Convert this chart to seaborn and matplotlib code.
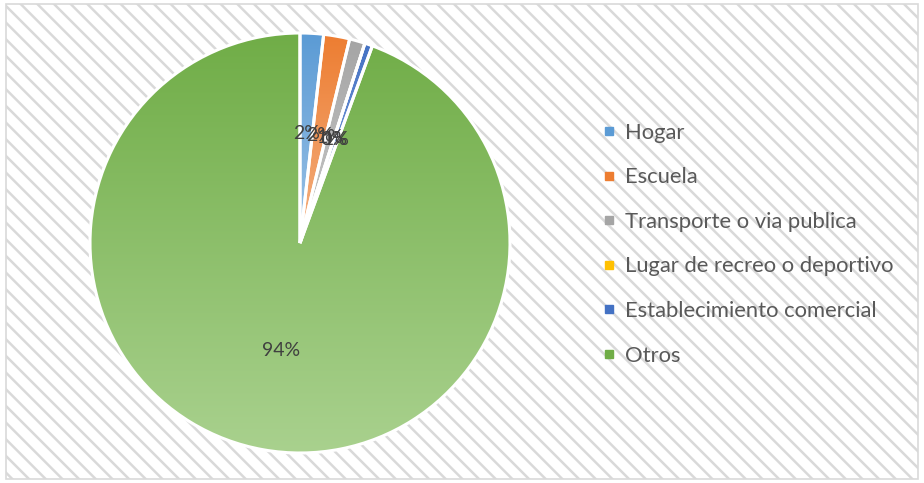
import numpy as np
import pandas as pd
import matplotlib
matplotlib.use("Agg")
import matplotlib.pyplot as plt
from matplotlib.patches import Rectangle
from matplotlib.lines import Line2D
from matplotlib.colors import to_rgb
import seaborn as sns

categories = ["Hogar", "Escuela", "Transporte o via publica",
              "Lugar de recreo o deportivo", "Establecimiento comercial", "Otros"]
values = [1.8, 2.0, 1.2, 0.0, 0.6, 94.4]
top_colors = ["#5B9BD5", "#ED7D31", "#A5A5A5", "#FFC000", "#4472C4", "#70AD47"]
bottom_colors = ["#9DC3E6", "#F4B183", "#C9C9C9", "#FFD966", "#8FAADC", "#A9D18E"]

df = pd.DataFrame({"categoria": categories, "valor": values})

sns.set_theme(style="white")
plt.rcParams["font.family"] = ["Lato", "DejaVu Sans"]
plt.rcParams["hatch.color"] = "#eeeeee"
plt.rcParams["hatch.linewidth"] = 1.8

W, H = 924, 483
fig = plt.figure(figsize=(W / 100, H / 100), dpi=100)
fig.patch.set_facecolor("white")

# background hatched chart area with border (in its own axes, behind everything)
bgax = fig.add_axes([0, 0, 1, 1], zorder=-5)
bgax.set_xlim(0, W)
bgax.set_ylim(H, 0)
bgax.axis("off")
bgax.add_patch(Rectangle((6, 4), 918 - 6, 479 - 4, facecolor="white",
                         edgecolor="#d9d9d9", linewidth=1.2, hatch="\\\\"))

cx, cy, r = 300, 243, 210
ax = fig.add_axes([(cx - r) / W, (H - cy - r) / H, 2 * r / W, 2 * r / H], zorder=1)
ax.set_facecolor("none")

wedges, texts, autotexts = ax.pie(
    df["valor"], startangle=90, counterclock=False,
    colors=top_colors, autopct=lambda p: f"{p:.0f}%", pctdistance=0.52,
    wedgeprops=dict(edgecolor="white", linewidth=2.2),
    textprops=dict(color="#404040", fontsize=14))

for w, c1, c2 in zip(wedges, top_colors, bottom_colors):
    ext = w.get_path().get_extents()
    y0, y1 = ext.y0, ext.y1
    if y1 - y0 < 1e-6:
        continue
    a = np.array(to_rgb(c1)); b = np.array(to_rgb(c2))
    t = np.linspace(0, 1, 256)[:, None]
    grad = (a[None, :] * (1 - t) + b[None, :] * t)[:, None, :]
    im = ax.imshow(grad, extent=[ext.x0, ext.x1, y0, y1], origin="upper",
                   aspect="auto", zorder=1, interpolation="bilinear")
    im.set_clip_path(w)
    w.set_facecolor("none")
    w.set_zorder(2)

for t in autotexts:
    t.set_zorder(3)

ax.set_xlim(-1.0, 1.0)
ax.set_ylim(-1.0, 1.0)
ax.set_aspect("equal")
ax.axis("off")

handles = [Line2D([0], [0], marker="s", linestyle="none", markersize=6,
                  markerfacecolor=c, markeredgecolor=c) for c in top_colors]
leg = fig.legend(handles, categories, loc="upper left",
                 bbox_to_anchor=(583 / W, 1 - 103 / H), frameon=False,
                 fontsize=15.8, labelcolor="#595959", handlelength=0.55,
                 handletextpad=0.45, labelspacing=1.12)

fig.savefig("out.png", dpi=100)
